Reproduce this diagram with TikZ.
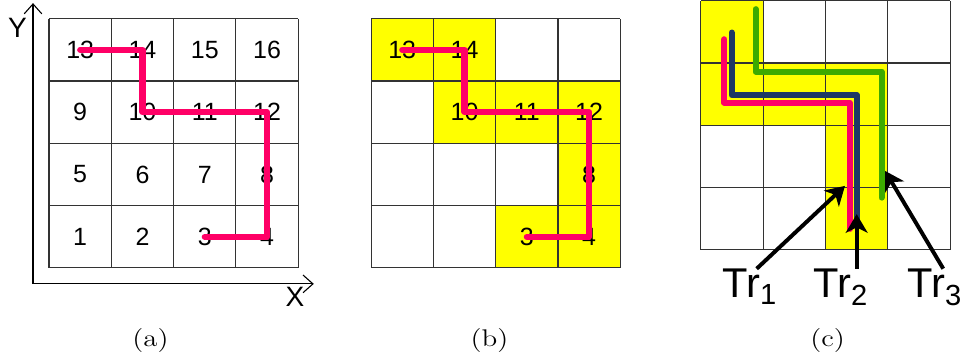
\documentclass[tikz,border=0pt]{standalone}
\usepackage{fontspec}
\newfontfamily\arialfont{Liberation Sans}
\definecolor{trpink}{RGB}{255,0,102}
\definecolor{trnavy}{RGB}{31,56,100}
\definecolor{trgreen}{RGB}{60,170,0}
\definecolor{cellyellow}{RGB}{255,255,0}
\usetikzlibrary{arrows.meta}
\newcommand{\capwide}[1]{\scalebox{1.2}[1]{#1}}

\begin{document}
\begin{tikzpicture}[
  cell/.style={minimum size=1cm,inner sep=0pt,font=\arialfont\fontsize{11.4}{12}\selectfont},
  gridline/.style={draw=black!80,line width=0.5pt},
  trace/.style={line width=2.8pt,line cap=round,line join=round},
  pointer/.style={line width=1.8pt,-{Stealth[length=8.5pt,width=10pt,inset=2.5pt]}},
  axis/.style={line width=0.5pt,-{Straight Barb[length=4.5pt,width=8pt]}},
  axlabel/.style={font=\arialfont\fontsize{12.8}{13}\selectfont},
  trlabel/.style={font=\arialfont\fontsize{19}{20}\selectfont,anchor=base,inner sep=0pt},
  caption/.style={font=\fontsize{11}{13}\selectfont}]
\useasboundingbox (-0.787,-1.525) rectangle (14.72,4.3);

% (a) numbered grid with axes
\foreach \n in {1,...,16}{
  \pgfmathtruncatemacro\col{mod(\n-1,4)}
  \pgfmathtruncatemacro\row{div(\n-1,4)}
  \node[cell] (a\n) at (\col+0.5,\row+0.5) {\n};
}
\draw[gridline] (0,0) grid (4,4);
\coordinate (o) at (-0.257,-0.257);
\coordinate (ytip) at (-0.257,4.25);
\coordinate (xtip) at (4.25,-0.257);
\draw[axis] (o) -- (ytip);
\draw[axis] (o) -- (xtip);
\node[axlabel] (ylab) at (-0.506,3.85) {Y};
\node[axlabel] (xlab) at (3.95,-0.47) {X};
\draw[trace,trpink] (a13.center) -- (a14.center) -- (a10.center) -- (a12.center)
  -- (a4.center) -- (a3.center);

% (b) visited cells
\begin{scope}[xshift=5.17cm]
\foreach \c/\r in {0/3,1/3,1/2,2/2,3/2,3/1,2/0,3/0}
  \fill[cellyellow] (\c,\r) rectangle +(1,1);
\draw[gridline] (0,0) grid (4,4);
\foreach \n/\c/\r in {13/0/3,14/1/3,10/1/2,11/2/2,12/3/2,8/3/1,3/2/0,4/3/0}
  \node[cell] (b\n) at (\c+0.5,\r+0.5) {\n};
\draw[trace,trpink] (b13.center) -- (b14.center) -- (b10.center) -- (b12.center)
  -- (b4.center) -- (b3.center);
\end{scope}

% (c) three trajectories
\begin{scope}[shift={(10.465,0.289)}]
\foreach \c/\r in {0/3,0/2,1/2,2/2,2/1,2/0}
  \fill[cellyellow] (\c,\r) rectangle +(1,1);
\draw[gridline] (0,0) grid (4,4);
\draw[trace,trpink] (0.375,3.38) |- (2.39,2.364) -- (2.39,0.337);
\draw[trace,trnavy] (0.493,3.488) |- (2.5,2.483) -- (2.5,0.38);
\draw[trace,trgreen] (0.878,3.863) |- (2.9,2.862) -- (2.9,0.839);
\coordinate (tip1) at (2.312,1.027);
\coordinate (tip2) at (2.5,0.573);
\coordinate (tip3) at (2.955,1.268);
\end{scope}
\node[trlabel] (tr1) at (11.25,-0.48) {Tr\textsubscript{1}};
\node[trlabel] (tr2) at (12.71,-0.48) {Tr\textsubscript{2}};
\node[trlabel] (tr3) at (14.22,-0.48) {Tr\textsubscript{3}};
\draw[pointer] ([xshift=0.11cm]tr1.north) -- (tip1);
\draw[pointer] (tr2.north -| tip2) -- (tip2);
\draw[pointer] ([xshift=0.135cm]tr3.north) -- (tip3);

% captions
\node[caption] (capa) at (1.63,-1.17) {\capwide{(a)}};
\node[caption] (capb) at (7.07,-1.17) {\capwide{(b)}};
\node[caption] (capc) at (12.5,-1.17) {\capwide{(c)}};
\end{tikzpicture}
\end{document}
